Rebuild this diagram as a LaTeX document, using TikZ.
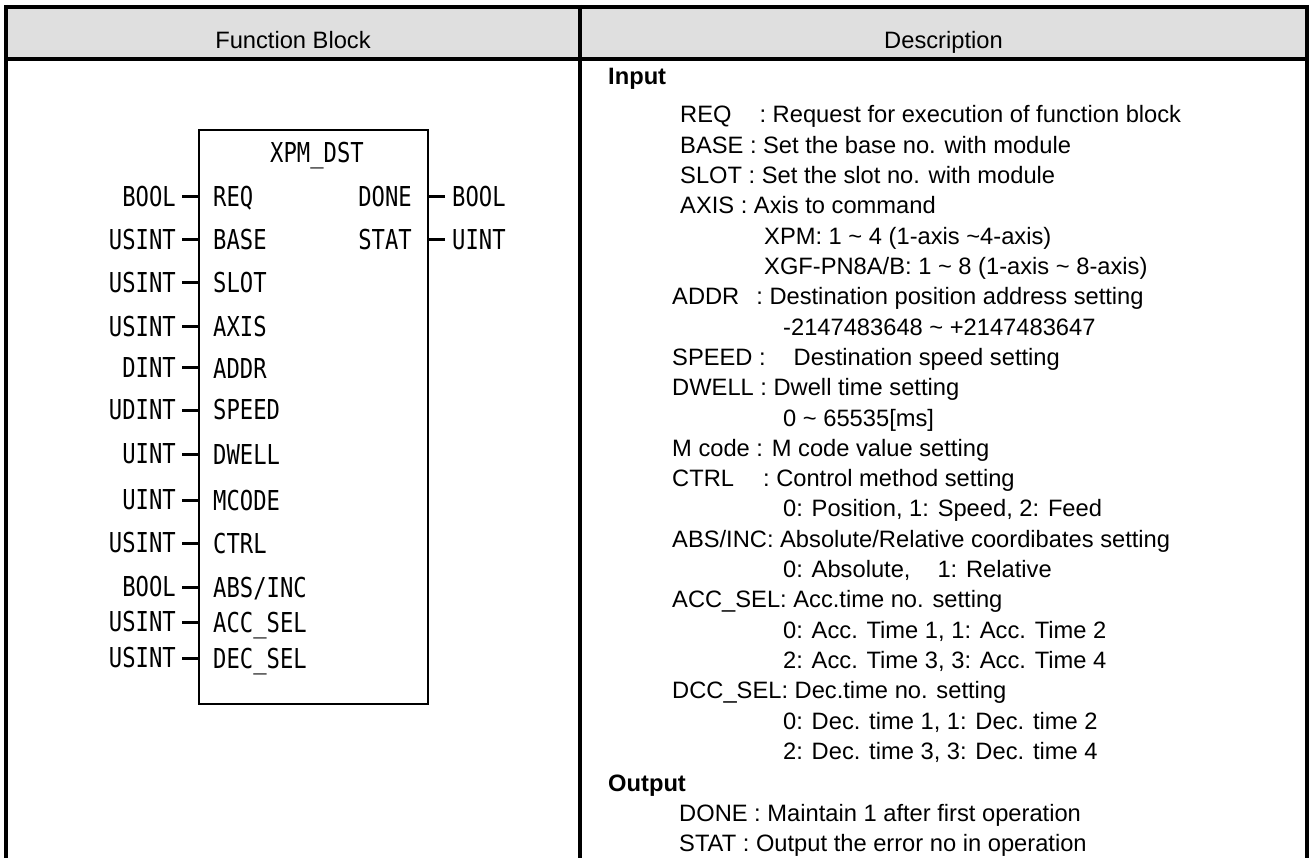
\documentclass[tikz,border=0pt]{standalone}
\usepackage{fontspec}
\setmainfont{Liberation Sans}
\newfontfamily\pinfont{DejaVu Sans Mono}[FakeStretch=0.81]
\usetikzlibrary{positioning}
\definecolor{headgray}{RGB}{223,223,223}
\newcommand{\tld}{\textasciitilde}

\begin{document}
\begin{tikzpicture}[x=1pt, y=-1pt,
    gridline/.style={line width=4pt},
    desc/.style={anchor=base west, inner sep=0pt, font=\fontsize{23.7}{28}\selectfont},
    head/.style={anchor=base, inner sep=0pt, font=\fontsize{23.7}{28}\selectfont},
    pin/.style={inner sep=0pt, font=\pinfont\fontsize{27.4}{30}\selectfont},
    stub/.style={line width=3pt}]
    \useasboundingbox (0,0) rectangle (1309,858);

    % Table
    \fill[headgray] (6,7) rectangle (1307,59.5);
    \draw[gridline] (4,7) -- (1309,7);
    \draw[gridline] (4,59.5) -- (1309,59.5);
    \draw[gridline] (6,5) -- (6,858);
    \draw[gridline] (580,5) -- (580,858);
    \draw[gridline] (1307,5) -- (1307,858);
    \node[head] (hfb) at (293,49) {Function Block};
    \node[head] (hdesc) at (943.5,49) {Description};

    % Function block
    \node[draw, line width=2.7pt, outer sep=0pt, minimum width=229pt, minimum height=574pt,
          anchor=north west] (fb) at (199,130) {};
    \node[pin, anchor=base] (title) at (317,163) {XPM\_DST};

    % Inputs
    \foreach \yy/\tp/\nm [count=\i] in {197/BOOL/REQ, 240/USINT/BASE, 283/USINT/SLOT,
        327/USINT/AXIS, 368/DINT/ADDR, 410/UDINT/SPEED, 454/UINT/DWELL, 500/UINT/MCODE,
        543/USINT/CTRL, 587/BOOL/{ABS/INC}, 622/USINT/ACC\_SEL, 658/USINT/DEC\_SEL}{
        \node[pin, anchor=east, inner xsep=6pt] (in\i) at (182,\yy) {\tp};
        \node[pin, anchor=base west] (pn\i) at (213,{\yy+10}) {\nm};
        \draw[stub] (in\i.east) -- (in\i.east -| fb.west);
    }

    % Outputs
    \foreach \yy/\nm/\tp [count=\i] in {197/DONE/BOOL, 240/STAT/UINT}{
        \node[pin, anchor=base east] (pm\i) at (412,{\yy+10}) {\nm};
        \node[pin, anchor=west, inner xsep=7pt] (out\i) at (445,\yy) {\tp};
        \draw[stub] (out\i.west) -- (out\i.west -| fb.east);
    }

    % Description
    \foreach \xx/\yy/\txt [count=\j] in {
        608/85/{\bfseries Input},
        680/123/{REQ\hspace{28pt}: Request for execution of function block},
        680/153.3/{BASE : Set the base no. with module},
        680/183.6/{SLOT : Set the slot no. with module},
        680/213.9/{AXIS : Axis to command},
        764/244.2/{XPM: 1 \tld\ 4 (1-axis \tld 4-axis)},
        764/274.5/{XGF-PN8A/B: 1 \tld\ 8 (1-axis \tld\ 8-axis)},
        672/304.8/{ADDR\hspace{17pt}: Destination position address setting},
        783/335.1/{-2147483648 \tld\ +2147483647},
        672/365.4/{SPEED :\hspace{28pt}Destination speed setting},
        672/395.7/{DWELL : Dwell time setting},
        783/426/{0 \tld\ 65535[ms]},
        672/456.3/{M code : M code value setting},
        672/486.6/{CTRL\hspace{29pt}: Control method setting},
        783/516.9/{0: Position, 1: Speed, 2: Feed},
        672/547.2/{ABS/INC: Absolute/Relative coordibates setting},
        783/577.5/{0: Absolute,\hspace{27pt}1: Relative},
        672/607.8/{ACC\_SEL: Acc.time no. setting},
        783/638.1/{0: Acc. Time 1, 1: Acc. Time 2},
        783/668.4/{2: Acc. Time 3, 3: Acc. Time 4},
        672/698.7/{DCC\_SEL: Dec.time no. setting},
        783/729/{0: Dec. time 1, 1: Dec. time 2},
        783/759.3/{2: Dec. time 3, 3: Dec. time 4},
        608/791/{\bfseries Output},
        679/821.5/{DONE : Maintain 1 after first operation},
        679/851.5/{STAT : Output the error no in operation}}{
        \node[desc] (d\j) at (\xx,\yy) {\txt};
    }
\end{tikzpicture}
\end{document}
